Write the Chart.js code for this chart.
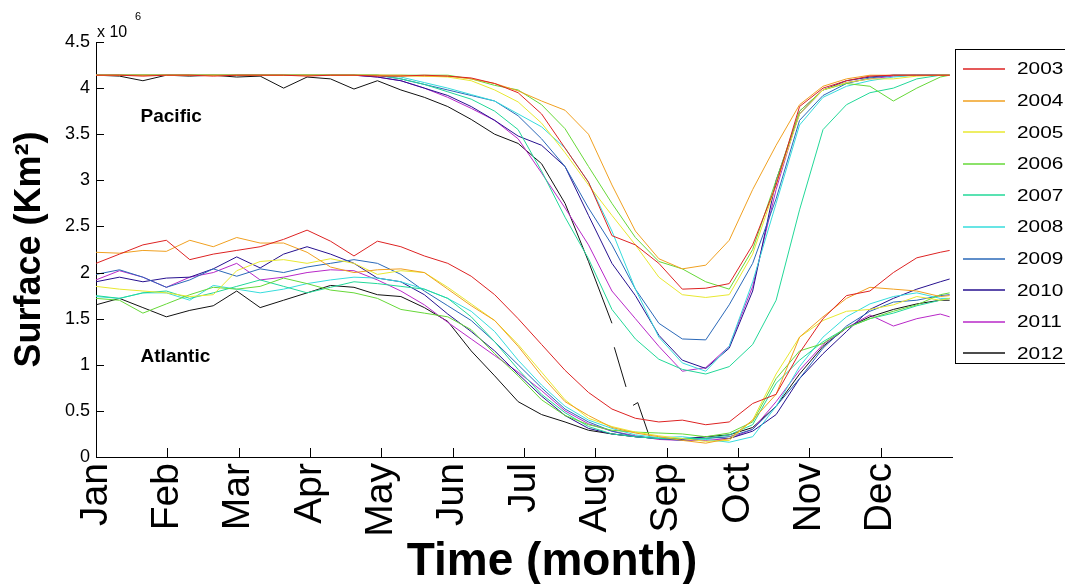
<!DOCTYPE html>
<html lang="en">
<head>
  <meta charset="UTF-8">
  <title>Surface 2003-2012, Pacific and Atlantic</title>
  <script src="https://cdn.jsdelivr.net/npm/chart.js"></script>
  <style>
    body {
      margin: 0;
      background: #fff;
    }

    #wrap {
      width: 1065px;
      height: 584px;
      position: relative;
    }
  </style>
</head>
<body>
  <div id="wrap">
    <canvas id="surfaceChart"></canvas>
  </div>

  <script>
    // values in millions of km2, one sample every 10 days
    const years = ['2003', '2004', '2005', '2006', '2007', '2008', '2009', '2010', '2011', '2012'];
    const colors = ['#dd2222', '#f0a020', '#e8e830', '#66d838', '#22d898', '#36dcdc', '#2a68b8', '#26108f', '#b828c8', '#111111'];

    const days = [0, 10, 20, 30, 40, 50, 60, 70, 80, 90, 100, 110, 120, 130, 140, 150, 160, 170, 180, 190,
                  200, 210, 220, 230, 240, 250, 260, 270, 280, 290, 300, 310, 320, 330, 340, 350, 360, 364];

    const monthLabels = ['Jan', 'Feb', 'Mar', 'Apr', 'May', 'Jun', 'Jul', 'Aug', 'Sep', 'Oct', 'Nov', 'Dec'];
    const monthTicks = [0, 30.4, 60.8, 91.3, 121.7, 152.1, 182.5, 212.9, 243.3, 273.8, 304.2, 334.6];
    const yTicks = [0, 0.5, 1, 1.5, 2, 2.5, 3, 3.5, 4, 4.5];

    const regionNames = ['Pacific', 'Atlantic'];
    const regionLabelDay = [19, 19];
    const regionLabelValue = [3.63, 1.03];

    // Pacific
    const pac2003 = [4.14, 4.14, 4.13, 4.14, 4.14, 4.13, 4.14, 4.14, 4.14, 4.13,
                     4.14, 4.14, 4.13, 4.13, 4.14, 4.13, 4.11, 4.05, 3.95, 3.72,
                     3.35, 2.98, 2.40, 2.30, 2.10, 1.82, 1.83, 1.88, 2.30, 2.95,
                     3.80, 4.00, 4.08, 4.13, 4.14, 4.14, 4.14, 4.14];
    const pac2004 = [4.14, 4.14, 4.14, 4.14, 4.14, 4.14, 4.14, 4.14, 4.14, 4.14,
                     4.14, 4.14, 4.14, 4.14, 4.13, 4.13, 4.10, 4.05, 3.97, 3.86,
                     3.76, 3.50, 2.95, 2.45, 2.15, 2.04, 2.08, 2.35, 2.90, 3.38,
                     3.82, 4.02, 4.10, 4.14, 4.14, 4.14, 4.14, 4.14];
    const pac2005 = [4.14, 4.14, 4.14, 4.14, 4.14, 4.14, 4.14, 4.14, 4.14, 4.14,
                     4.14, 4.14, 4.14, 4.13, 4.13, 4.12, 4.08, 3.98, 3.85, 3.62,
                     3.30, 2.95, 2.62, 2.30, 1.95, 1.76, 1.73, 1.76, 2.20, 2.95,
                     3.72, 3.98, 4.06, 4.10, 4.10, 4.13, 4.14, 4.14];
    const pac2006 = [4.14, 4.14, 4.14, 4.14, 4.14, 4.14, 4.14, 4.14, 4.14, 4.14,
                     4.14, 4.14, 4.14, 4.14, 4.14, 4.14, 4.10, 4.03, 3.98, 3.82,
                     3.56, 3.15, 2.75, 2.38, 2.12, 2.04, 1.90, 1.82, 2.25, 3.00,
                     3.75, 3.98, 4.05, 4.02, 3.86, 4.00, 4.12, 4.14];
    const pac2007 = [4.14, 4.14, 4.14, 4.14, 4.14, 4.14, 4.14, 4.14, 4.14, 4.14,
                     4.14, 4.14, 4.14, 4.10, 4.04, 3.96, 3.88, 3.75, 3.55, 3.10,
                     2.60, 2.15, 1.60, 1.28, 1.06, 0.95, 0.90, 0.98, 1.22, 1.70,
                     2.68, 3.55, 3.82, 3.95, 4.00, 4.10, 4.14, 4.14];
    const pac2008 = [4.14, 4.14, 4.14, 4.14, 4.14, 4.14, 4.14, 4.14, 4.14, 4.14,
                     4.14, 4.14, 4.14, 4.12, 4.06, 4.00, 3.93, 3.86, 3.72, 3.58,
                     3.35, 2.98, 2.45, 1.82, 1.30, 1.02, 0.93, 1.20, 1.90, 2.75,
                     3.60, 3.90, 4.02, 4.08, 4.12, 4.14, 4.14, 4.14];
    const pac2009 = [4.14, 4.14, 4.14, 4.14, 4.14, 4.14, 4.14, 4.14, 4.14, 4.14,
                     4.14, 4.14, 4.14, 4.10, 4.04, 3.98, 3.92, 3.86, 3.70, 3.45,
                     3.15, 2.70, 2.30, 1.82, 1.45, 1.28, 1.27, 1.65, 2.10, 2.80,
                     3.65, 3.92, 4.05, 4.11, 4.14, 4.14, 4.14, 4.14];
    const pac2010 = [4.14, 4.14, 4.14, 4.14, 4.14, 4.14, 4.14, 4.14, 4.14, 4.14,
                     4.14, 4.14, 4.12, 4.08, 4.00, 3.92, 3.80, 3.65, 3.48, 3.38,
                     3.15, 2.62, 2.10, 1.75, 1.32, 1.05, 0.96, 1.18, 1.80, 3.00,
                     3.72, 3.98, 4.08, 4.12, 4.14, 4.14, 4.14, 4.14];
    const pac2011 = [4.14, 4.14, 4.14, 4.14, 4.14, 4.14, 4.14, 4.14, 4.14, 4.14,
                     4.14, 4.14, 4.12, 4.08, 4.00, 3.90, 3.78, 3.65, 3.45, 3.08,
                     2.70, 2.30, 1.80, 1.50, 1.20, 0.93, 0.97, 1.20, 1.85, 2.90,
                     3.75, 3.98, 4.06, 4.10, 4.13, 4.14, 4.14, 4.14];
    const pac2012 = [4.14, 4.13, 4.08, 4.14, 4.13, 4.14, 4.12, 4.13, 4.00, 4.12,
                     4.10, 3.99, 4.08, 3.98, 3.90, 3.80, 3.66, 3.50, 3.40, 3.18,
                     2.75, 2.12, 1.45, null, null, null, null, null, null, null,
                     null, null, null, null, null, null, null, null];
    // the broken pieces of 2012 after mid August
    const pac2012PieceDays = [221, 226, 228, 229, 231, 236];
    const pac2012PieceValues = [1.19, 0.76, null, 0.56, 0.59, 0.22];

    // Atlantic
    const atl2003 = [2.10, 2.20, 2.30, 2.35, 2.14, 2.20, 2.24, 2.28, 2.36, 2.46,
                     2.34, 2.18, 2.34, 2.28, 2.18, 2.10, 1.96, 1.76, 1.50, 1.22,
                     0.94, 0.70, 0.52, 0.42, 0.38, 0.40, 0.35, 0.38, 0.58, 0.68,
                     1.13, 1.50, 1.75, 1.80, 2.00, 2.16, 2.22, 2.24];
    const atl2004 = [2.22, 2.21, 2.24, 2.23, 2.35, 2.28, 2.38, 2.32, 2.32, 2.22,
                     2.06, 2.00, 2.03, 2.04, 2.00, 1.82, 1.64, 1.48, 1.20, 0.88,
                     0.60, 0.45, 0.32, 0.26, 0.22, 0.18, 0.15, 0.20, 0.40, 0.68,
                     1.30, 1.52, 1.72, 1.84, 1.82, 1.80, 1.74, 1.75];
    const atl2005 = [1.85, 1.82, 1.80, 1.78, 1.74, 1.76, 2.02, 2.12, 2.14, 2.10,
                     2.15, 2.10, 1.98, 2.02, 2.00, 1.84, 1.66, 1.48, 1.22, 0.92,
                     0.62, 0.42, 0.33, 0.27, 0.23, 0.20, 0.17, 0.18, 0.40, 0.90,
                     1.30, 1.48, 1.58, 1.60, 1.65, 1.74, 1.70, 1.72];
    const atl2006 = [1.72, 1.70, 1.56, 1.66, 1.76, 1.84, 1.82, 1.85, 1.94, 1.88,
                     1.81, 1.78, 1.72, 1.60, 1.56, 1.52, 1.38, 1.12, 0.88, 0.62,
                     0.45, 0.35, 0.29, 0.27, 0.26, 0.25, 0.22, 0.26, 0.38, 0.85,
                     1.15, 1.23, 1.40, 1.50, 1.58, 1.65, 1.76, 1.78];
    const atl2007 = [1.75, 1.72, 1.78, 1.80, 1.72, 1.78, 1.85, 1.92, 1.85, 1.78,
                     1.84, 1.90, 1.88, 1.85, 1.82, 1.72, 1.52, 1.25, 0.95, 0.68,
                     0.48, 0.33, 0.25, 0.22, 0.20, 0.20, 0.20, 0.24, 0.35, 0.80,
                     1.05, 1.25, 1.40, 1.50, 1.56, 1.64, 1.70, 1.72];
    const atl2008 = [1.74, 1.72, 1.78, 1.78, 1.70, 1.86, 1.82, 1.78, 1.82, 1.88,
                     1.92, 1.95, 1.94, 1.90, 1.82, 1.72, 1.58, 1.36, 1.05, 0.78,
                     0.55, 0.40, 0.31, 0.24, 0.21, 0.22, 0.19, 0.16, 0.22, 0.55,
                     0.98, 1.30, 1.52, 1.66, 1.74, 1.78, 1.72, 1.72];
    const atl2009 = [1.98, 2.03, 1.95, 1.84, 1.92, 2.04, 1.96, 2.04, 2.00, 2.06,
                     2.10, 2.14, 2.10, 1.98, 1.80, 1.64, 1.48, 1.25, 1.00, 0.75,
                     0.52, 0.38, 0.28, 0.22, 0.20, 0.18, 0.20, 0.22, 0.30, 0.55,
                     0.85, 1.18, 1.42, 1.58, 1.68, 1.70, 1.75, 1.76];
    const atl2010 = [1.90, 1.95, 1.90, 1.94, 1.95, 2.04, 2.17, 2.05, 2.20, 2.28,
                     2.20, 2.10, 1.94, 1.90, 1.76, 1.55, 1.36, 1.15, 0.90, 0.66,
                     0.45, 0.31, 0.25, 0.22, 0.20, 0.19, 0.22, 0.20, 0.28, 0.46,
                     0.85, 1.12, 1.36, 1.60, 1.72, 1.82, 1.90, 1.93];
    const atl2011 = [1.92, 2.02, 1.95, 1.84, 1.95, 2.00, 2.10, 1.92, 1.95, 2.00,
                     2.03, 2.02, 1.92, 1.80, 1.65, 1.46, 1.28, 1.10, 0.92, 0.72,
                     0.50, 0.36, 0.28, 0.23, 0.19, 0.18, 0.18, 0.20, 0.30, 0.60,
                     0.94, 1.22, 1.40, 1.54, 1.42, 1.50, 1.55, 1.52];
    const atl2012 = [1.65, 1.72, 1.62, 1.52, 1.59, 1.64, 1.80, 1.62, 1.70, 1.78,
                     1.86, 1.84, 1.76, 1.74, 1.62, 1.47, 1.15, 0.88, 0.60, 0.46,
                     0.38, 0.29, 0.25, 0.22, 0.20, 0.20, 0.22, 0.24, 0.32, 0.55,
                     0.90, 1.20, 1.40, 1.52, 1.60, 1.66, 1.70, 1.70];

    const pacific = [pac2003, pac2004, pac2005, pac2006, pac2007, pac2008, pac2009, pac2010, pac2011, pac2012];
    const atlantic = [atl2003, atl2004, atl2005, atl2006, atl2007, atl2008, atl2009, atl2010, atl2011, atl2012];

    const toPoints = (xs, ys) => xs.map((x, i) => ({ x: x, y: ys[i] }));
    const lineSet = (label, data, color) => ({
      label: label,
      data: data,
      borderColor: color,
      backgroundColor: color,
      borderWidth: 1,
      pointRadius: 0,
      tension: 0,
      fill: false
    });

    const datasets = [];
    years.forEach((yr, i) => datasets.push(lineSet(yr, toPoints(days, pacific[i]), colors[i])));
    years.forEach((yr, i) => datasets.push(lineSet(yr + ' Atlantic', toPoints(days, atlantic[i]), colors[i])));
    datasets.push(lineSet('2012 pieces', toPoints(pac2012PieceDays, pac2012PieceValues), colors[9]));

    const FONT = '"Liberation Sans", Arial, Helvetica, sans-serif';
    Chart.defaults.font.family = FONT;
    Chart.defaults.color = '#000';

    // matlab look: inward ticks, exponent, region names, boxed legend
    const matlabExtras = {
      id: 'matlabExtras',
      afterDraw(chart) {
        const { ctx, chartArea: a, scales: { x, y } } = chart;
        ctx.save();
        ctx.strokeStyle = '#000';
        ctx.lineWidth = 1;
        ctx.beginPath();
        x.ticks.forEach(t => {
          const px = Math.round(x.getPixelForValue(t.value)) + 0.5;
          ctx.moveTo(px, a.bottom);
          ctx.lineTo(px, a.bottom - 9);
        });
        y.ticks.forEach(t => {
          const py = Math.round(y.getPixelForValue(t.value)) + 0.5;
          ctx.moveTo(a.left, py);
          ctx.lineTo(a.left + 8, py);
        });
        ctx.stroke();

        ctx.fillStyle = '#000';
        ctx.textAlign = 'left';
        ctx.textBaseline = 'alphabetic';
        ctx.font = '16px ' + FONT;
        ctx.fillText('x 10', a.left + 1, a.top - 5);
        ctx.font = '11px ' + FONT;
        ctx.fillText('6', a.left + 39, a.top - 22);

        ctx.font = 'bold 19px ' + FONT;
        regionNames.forEach((name, i) => {
          ctx.fillText(name, x.getPixelForValue(regionLabelDay[i]), y.getPixelForValue(regionLabelValue[i]));
        });

        // x axis title (sits a bit right of the axis centre in the original)
        ctx.textAlign = 'center';
        ctx.textBaseline = 'middle';
        ctx.font = 'bold 46px ' + FONT;
        ctx.fillText('Time (month)', (a.left + a.right) / 2 + 28, 562);

        // legend
        const lx = a.right + 3, ly = 49.5;
        ctx.strokeStyle = '#000';
        ctx.strokeRect(lx + 0.5, ly, chart.width, 314);
        years.forEach((yr, i) => {
          const yy = 69 + i * 31.6;
          ctx.strokeStyle = colors[i];
          ctx.lineWidth = 1.6;
          ctx.beginPath();
          ctx.moveTo(lx + 8, Math.round(yy));
          ctx.lineTo(lx + 50, Math.round(yy));
          ctx.stroke();
          ctx.save();
          ctx.translate(lx + 62, yy + 1);
          ctx.scale(1.3, 1);
          ctx.textAlign = 'left';
          ctx.font = '16px ' + FONT;
          ctx.fillText(yr, 0, 0);
          ctx.restore();
        });
        ctx.restore();
      }
    };

    new Chart(document.getElementById('surfaceChart'), {
      type: 'line',
      data: { datasets: datasets },
      options: {
        responsive: true,
        maintainAspectRatio: false,
        animation: false,
        layout: { padding: { left: 0, right: 113, top: 42, bottom: 0 } },
        plugins: {
          legend: { display: false },
          tooltip: { enabled: false }
        },
        scales: {
          x: {
            type: 'linear',
            min: 0,
            max: 365,
            afterBuildTicks: s => { s.ticks = monthTicks.map(v => ({ value: v })); },
            afterFit: s => { s.height = 127; },
            grid: { display: false, drawTicks: false, tickLength: 0 },
            border: { color: '#000', width: 1 },
            ticks: {
              autoSkip: false,
              minRotation: 90,
              maxRotation: 90,
              padding: 6,
              font: { size: 39 },
              callback: (v, i) => monthLabels[i]
            }
          },
          y: {
            min: 0,
            max: 4.5,
            afterBuildTicks: s => { s.ticks = yTicks.map(v => ({ value: v })); },
            afterFit: s => { s.width = 96; },
            grid: { display: false, drawTicks: false, tickLength: 0 },
            border: { color: '#000', width: 1 },
            ticks: {
              padding: 6,
              font: { size: 18 },
              callback: v => String(v)
            },
            title: {
              display: true,
              text: 'Surface (Km²)',
              font: { size: 36, weight: 'bold' },
              padding: { top: 8, bottom: 0 }
            }
          }
        }
      },
      plugins: [matlabExtras]
    });
  </script>
</body>
</html>
